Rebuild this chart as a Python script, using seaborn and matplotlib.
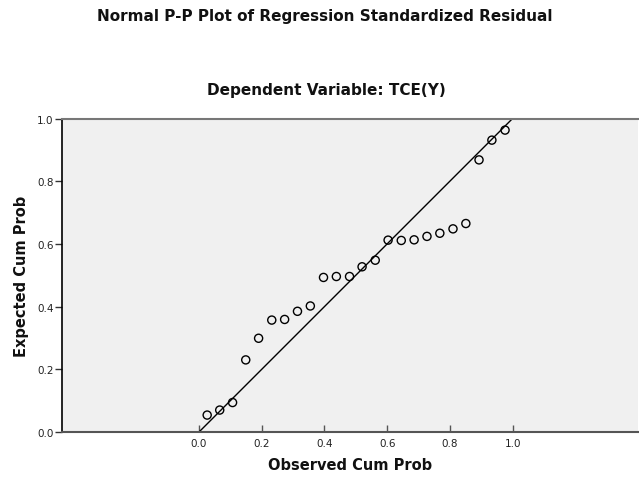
import matplotlib
matplotlib.use("Agg")
import matplotlib.pyplot as plt
import seaborn as sns
import pandas as pd

observed_cum_prob = [0.026, 0.066, 0.107, 0.149, 0.190, 0.232, 0.273, 0.314,
                     0.355, 0.397, 0.438, 0.480, 0.520, 0.562, 0.603, 0.645,
                     0.686, 0.727, 0.768, 0.810, 0.851, 0.893, 0.934, 0.976]
expected_cum_prob = [0.054, 0.070, 0.094, 0.230, 0.299, 0.357, 0.359, 0.385,
                     0.402, 0.493, 0.496, 0.496, 0.527, 0.548, 0.612, 0.611,
                     0.613, 0.624, 0.634, 0.648, 0.665, 0.868, 0.931, 0.963]
ref_line = [0.0, 1.0]
tick_values = [0.0, 0.2, 0.4, 0.6, 0.8, 1.0]
tick_labels = ["0.0", "0.2", "0.4", "0.6", "0.8", "1.0"]

sns.set_theme(style="white")
plt.rcParams['font.family'] = ['DejaVu Sans']

fig = plt.figure(figsize=(6.39, 4.81), dpi=100)
ax = fig.add_axes([62/639, 1-433/481, (638-62)/639, (433-119.5)/481])
ax.set_facecolor("#f0f0f0")

df = pd.DataFrame({"obs": observed_cum_prob, "exp": expected_cum_prob})
ref = pd.DataFrame({"x": ref_line, "y": ref_line})

sns.lineplot(data=ref, x="x", y="y", ax=ax, color="black", linewidth=1.0)
sns.scatterplot(data=df, x="obs", y="exp", ax=ax, s=34, facecolor="none",
                edgecolor="black", linewidth=1.0, zorder=3)

ax.set_xlim(-0.437, 1.400)
ax.set_ylim(0.0, 1.0)
ax.set_xticks(tick_values)
ax.set_xticklabels(tick_labels)
ax.set_yticks(tick_values)
ax.set_yticklabels(tick_labels)

ax.tick_params(axis="x", direction="in", length=5, width=1, colors="#555555",
               labelcolor="#222222", labelsize=7.5, bottom=True, pad=4)
ax.tick_params(axis="y", direction="out", length=5, width=1, colors="#333333",
               labelcolor="#222222", labelsize=7.5, left=True, pad=1)

for side in ["top", "bottom", "right", "left"]:
    ax.spines[side].set_visible(True)
ax.spines["left"].set_color("black")
ax.spines["left"].set_linewidth(1.2)
ax.spines["bottom"].set_color("#555555")
ax.spines["bottom"].set_linewidth(1.5)
ax.spines["top"].set_color("#777777")
ax.spines["top"].set_linewidth(1.5)
ax.spines["right"].set_visible(False)

ax.set_xlabel("Observed Cum Prob", fontsize=10.5, fontweight="bold", color="#111111", labelpad=7)
ax.set_ylabel("Expected Cum Prob", fontsize=10.5, fontweight="bold", color="#111111", labelpad=6)

fig.text(325/639, 1-17/481, "Normal P-P Plot of Regression Standardized Residual",
         ha="center", va="center", fontsize=11, fontweight="bold", color="#111111")
fig.text(326/639, 1-91/481, "Dependent Variable: TCE(Y)",
         ha="center", va="center", fontsize=11, fontweight="bold", color="#111111")

fig.savefig("out.png", dpi=100)
